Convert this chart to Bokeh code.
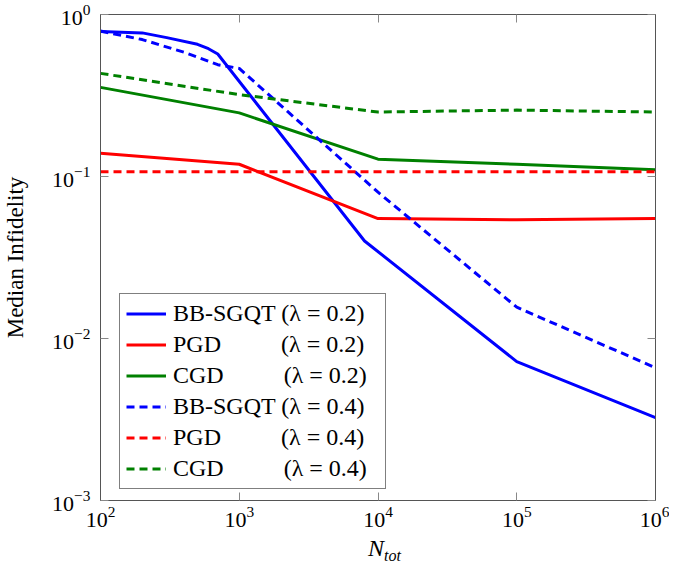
from bokeh.plotting import figure
from bokeh.models import (Range1d, LogAxis, FixedTicker, Legend, LegendItem, Div,
                          CustomJSTickFormatter)
from bokeh.layouts import column
from bokeh.embed import file_html
from bokeh.resources import INLINE

# ---- data ----
n_bb_02 = [100, 200, 300, 500, 600, 700, 8000, 1e5, 1e6]
v_bb_02 = [0.785, 0.77, 0.72, 0.655, 0.615, 0.57, 0.040, 0.0072, 0.00325]

n_pgd_02 = [100, 1000, 1e4, 1e5, 1e6]
v_pgd_02 = [0.139, 0.119, 0.055, 0.054, 0.055]

n_cgd_02 = [100, 1000, 1e4, 1e5, 1e6]
v_cgd_02 = [0.355, 0.247, 0.128, 0.119, 0.110]

n_bb_04 = [100, 200, 400, 700, 1000, 1e4, 1e5, 1e6]
v_bb_04 = [0.79, 0.70, 0.585, 0.49, 0.465, 0.080, 0.0156, 0.0066]

n_pgd_04 = [100, 1000, 1e4, 1e5, 1e6]
v_pgd_04 = [0.107, 0.107, 0.107, 0.107, 0.107]

n_cgd_04 = [100, 1000, 1e4, 1e5, 1e6]
v_cgd_04 = [0.433, 0.320, 0.250, 0.257, 0.250]

x_ticks = [1e2, 1e3, 1e4, 1e5, 1e6]
y_ticks = [1e-3, 1e-2, 1e-1, 1e0]

NB = "\u00a0" * 10
TAIL = "\u00a0\u00a0"
labels = [
    "BB-SGQT (λ = 0.2)" + TAIL,
    "PGD" + NB + "(λ = 0.2)" + TAIL,
    "CGD" + NB + "(λ = 0.2)" + TAIL,
    "BB-SGQT (λ = 0.4)" + TAIL,
    "PGD" + NB + "(λ = 0.4)" + TAIL,
    "CGD" + NB + "(λ = 0.4)" + TAIL,
]

FONT = "Liberation Serif"
AX = "#555555"
TK = "#888888"

p = figure(width=669, height=534, x_axis_type="log", y_axis_type="log",
           x_range=Range1d(1e2, 1e6), y_range=Range1d(1e-3, 1e0),
           output_backend="svg", toolbar_location=None,
           min_border_left=98, min_border_right=14, min_border_top=14,
           min_border_bottom=34)
p.grid.visible = False
p.outline_line_color = AX
p.background_fill_color = "white"
p.border_fill_color = "white"

p.xaxis.ticker = FixedTicker(ticks=x_ticks)
p.yaxis.ticker = FixedTicker(ticks=y_ticks)
for ax in (p.xaxis[0], p.yaxis[0]):
    ax.major_tick_in = 8
    ax.major_tick_out = 0
    ax.minor_tick_line_color = None
    ax.major_tick_line_color = TK
    ax.axis_line_color = AX
    ax.major_label_text_font = FONT
    ax.major_label_text_font_size = "22px"
    ax.major_label_text_color = "black"
p.xaxis.major_label_standoff = 6
p.yaxis.major_label_standoff = 10
p.yaxis.axis_label = "Median Infidelity"
p.yaxis.axis_label_text_font = FONT
p.yaxis.axis_label_text_font_size = "23px"
p.yaxis.axis_label_text_font_style = "normal"
p.yaxis.axis_label_text_color = "black"
p.yaxis.axis_label_standoff = 21

empty = CustomJSTickFormatter(code="return ''")
top = LogAxis(ticker=FixedTicker(ticks=x_ticks), formatter=empty,
              major_tick_in=8, major_tick_out=0, minor_tick_line_color=None,
              major_tick_line_color=TK, axis_line_color=AX,
              major_label_standoff=0, major_label_text_font_size="1px")
right = LogAxis(ticker=FixedTicker(ticks=y_ticks), formatter=empty,
                major_tick_in=8, major_tick_out=0, minor_tick_line_color=None,
                major_tick_line_color=TK, axis_line_color=AX,
                major_label_standoff=0, major_label_text_font_size="1px")
p.add_layout(top, "above")
p.add_layout(right, "right")

BLUE, RED, GREEN = "#0000ff", "#ff0000", "#008000"
W = 3
DASH = "8 5"
r1 = p.line(n_bb_02, v_bb_02, line_color=BLUE, line_width=W)
r2 = p.line(n_pgd_02, v_pgd_02, line_color=RED, line_width=W)
r3 = p.line(n_cgd_02, v_cgd_02, line_color=GREEN, line_width=W)
r4 = p.line(n_bb_04, v_bb_04, line_color=BLUE, line_width=W, line_dash=DASH)
r5 = p.line(n_pgd_04, v_pgd_04, line_color=RED, line_width=W, line_dash=DASH)
r6 = p.line(n_cgd_04, v_cgd_04, line_color=GREEN, line_width=W, line_dash=DASH)

legend = Legend(items=[LegendItem(label=l, renderers=[r]) for l, r in
                       zip(labels, [r1, r2, r3, r4, r5, r6])],
                location=(19, 11))
legend.label_text_font = FONT
legend.label_text_font_size = "24px"
legend.label_text_color = "black"
legend.label_height = 27
legend.glyph_height = 27
legend.glyph_width = 40
legend.spacing = 4
legend.padding = 6
legend.margin = 0
legend.label_standoff = 7
legend.border_line_color = "black"
legend.border_line_width = 1
legend.background_fill_alpha = 1.0
p.add_layout(legend)

# x-axis title: italic N with subscript "tot"
xtitle = Div(
    text=("<div style=\"font-family:'Liberation Serif',serif;font-size:24px;"
          "line-height:19px;padding-left:363px;color:black;white-space:nowrap\">"
          "<i>N</i><sub style=\"font-size:16px;vertical-align:-5px\"><i>tot</i></sub></div>"),
    width=669, height=19)

layout = column(p, xtitle, spacing=0)
open("out.html", "w").write(file_html(layout, INLINE))
